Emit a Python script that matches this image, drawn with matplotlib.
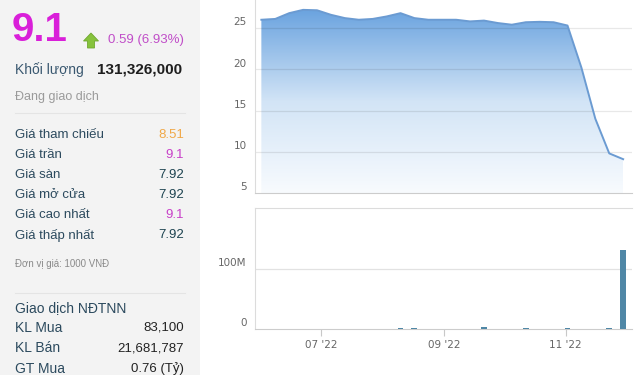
import numpy as np
import pandas as pd
import matplotlib
matplotlib.use("Agg")
import matplotlib.pyplot as plt
import matplotlib.dates as mdates
from matplotlib.patches import PathPatch, Polygon, Rectangle
from matplotlib.colors import LinearSegmentedColormap

# ---------------- data ----------------
week_dates = ["2022-06-01", "2022-06-08", "2022-06-15", "2022-06-22", "2022-06-29",
              "2022-07-06", "2022-07-13", "2022-07-20", "2022-07-27", "2022-08-03",
              "2022-08-10", "2022-08-17", "2022-08-24", "2022-08-31", "2022-09-07",
              "2022-09-14", "2022-09-21", "2022-09-28", "2022-10-05", "2022-10-12",
              "2022-10-19", "2022-10-26", "2022-11-02", "2022-11-09", "2022-11-16",
              "2022-11-23", "2022-11-30"]
prices = [26.0, 26.1, 26.8, 27.2, 27.15, 26.6, 26.2, 26.0, 26.1, 26.4,
          26.8, 26.2, 26.0, 26.0, 26.0, 25.8, 25.9, 25.6, 25.4, 25.7,
          25.75, 25.7, 25.3, 20.2, 14.0, 9.8, 9.1]
volumes_m = [0.1, 0.1, 0.1, 0.1, 0.1, 0.1, 0.1, 0.1, 0.1, 0.1,
             1.5, 1.5, 0.1, 0.1, 0.1, 0.1, 3.0, 0.1, 0.1, 1.5,
             0.1, 0.1, 1.5, 0.1, 0.1, 1.5, 131.326]

price_ticks = [5, 10, 15, 20, 25]
vol_ticks = [0, 100]
vol_tick_labels = ["0", "100M"]
x_tick_dates = ["2022-07-01", "2022-09-01", "2022-11-01"]
x_tick_labels = ["07 '22", "09 '22", "11 '22"]

info_labels = ["Giá tham chiếu", "Giá trần", "Giá sàn", "Giá mở cửa", "Giá cao nhất", "Giá thấp nhất"]
info_values = ["8.51", "9.1", "7.92", "7.92", "9.1", "7.92"]
info_colors = ["#f0a848", "#c83fc8", "#1d4350", "#1d4350", "#c83fc8", "#1d4350"]
foreign_labels = ["KL Mua", "KL Bán", "GT Mua"]
foreign_values = ["83,100", "21,681,787", "0.76 (Tỷ)"]

# ---------------- figure ----------------
W, H = 640, 375
fig = plt.figure(figsize=(6.4, 3.75), dpi=100, facecolor="white")
FONT = ["Liberation Sans", "DejaVu Sans"]

ov = fig.add_axes([0, 0, 1, 1], zorder=0)
ov.set_xlim(0, W)
ov.set_ylim(H, 0)
ov.axis("off")
ov.add_patch(Rectangle((0, 0), 200, H, facecolor="#f3f3f3", edgecolor="none"))
ov.plot([15, 185], [113, 113], color="#e4e4e4", lw=0.8)
ov.plot([15, 185], [293, 293], color="#e4e4e4", lw=0.8)

ov.text(12, 30, "9.1", color="#d91fd9", fontsize=29, fontweight="bold", va="center", ha="left", family=FONT)
ov.add_patch(Polygon([(83.5, 41), (91, 33), (98.5, 41), (94.5, 41), (94.5, 48), (87.5, 48), (87.5, 41)],
                     closed=True, facecolor="#86c23c", edgecolor="#70a830", lw=0.6))
ov.text(108, 40, "0.59 (6.93%)", color="#c04dc8", fontsize=9.5, va="center", ha="left", family=FONT)
ov.text(15, 70, "Khối lượng", color="#3a5870", fontsize=10, va="center", ha="left", family=FONT)
ov.text(182, 70, "131,326,000", color="#1e1e1e", fontsize=11, fontweight="bold", va="center", ha="right", family=FONT)
ov.text(15, 97, "Đang giao dịch", color="#9a9a9a", fontsize=9, va="center", ha="left", family=FONT)

for i, (lab, val, col) in enumerate(zip(info_labels, info_values, info_colors)):
    y = 135 + 20 * i
    ov.text(15, y, lab, color="#2c4a5e", fontsize=9.5, va="center", ha="left", family=FONT)
    ov.text(184, y, val, color=col, fontsize=9.5, va="center", ha="right", family=FONT)

ov.text(15, 264, "Đơn vị giá: 1000 VNĐ", color="#8a8a8a", fontsize=7, va="center", ha="left", family=FONT)
ov.text(15, 308, "Giao dịch NĐTNN", color="#2c4a5e", fontsize=10, va="center", ha="left", family=FONT)
for i, (lab, val) in enumerate(zip(foreign_labels, foreign_values)):
    y = 328 + 20.5 * i
    ov.text(15, y, lab, color="#2c4a5e", fontsize=10, va="center", ha="left", family=FONT)
    ov.text(184, y, val, color="#222222", fontsize=9.5, va="center", ha="right", family=FONT)

# ---------------- price chart ----------------
x = mdates.date2num(pd.to_datetime(week_dates))
jul1 = mdates.date2num(pd.Timestamp("2022-07-01"))
nov1 = mdates.date2num(pd.Timestamp("2022-11-01"))
xmin, xmax = jul1 - 33.2, nov1 + 33.45

ax1 = fig.add_axes([255 / W, 1 - 193 / H, 377 / W, 193 / H], zorder=1)
ax1.set_facecolor("white")
poly = ax1.fill_between(x, prices, 5, facecolor="none", edgecolor="none")
clip = PathPatch(poly.get_paths()[0], transform=ax1.transData, facecolor="none", edgecolor="none")
ax1.add_patch(clip)
cmap = LinearSegmentedColormap.from_list("g", ["#f8fbfe", "#d2e4f6", "#6aa3df"])
grad = np.linspace(0, 1, 256).reshape(-1, 1)
im = ax1.imshow(grad, extent=[x[0], x[-1], 5, 27.3], origin="lower", aspect="auto", cmap=cmap, zorder=1)
im.set_clip_path(clip)
ax1.plot(x, prices, color="#6b9bd2", lw=1.4, zorder=3, solid_joinstyle="round")
for t in price_ticks[1:]:
    ax1.axhline(t, color="black", alpha=0.09, lw=0.9, zorder=2)
ax1.set_xlim(xmin, xmax)
ax1.set_ylim(5, 5 + 193 / 8.25)
ax1.set_xticks([])
ax1.set_yticks([])
for s in ["top", "right"]:
    ax1.spines[s].set_visible(False)
ax1.spines["left"].set_color("#dcdcdc")
ax1.spines["bottom"].set_color("#cccccc")
for t in price_ticks:
    ax1.annotate(str(t), xy=(0, t), xycoords=("axes fraction", "data"), xytext=(-6, 4),
                 textcoords="offset points", ha="right", va="center", color="#666666",
                 fontsize=7.5, family="DejaVu Sans")

# ---------------- volume chart ----------------
ax2 = fig.add_axes([255 / W, 1 - 329 / H, 377 / W, 121 / H], zorder=1)
ax2.set_facecolor("white")
ax2.bar(x, volumes_m, width=3.0, color="#4f87a6", zorder=3)
ax2.axhline(100, color="#e2e2e2", lw=0.9, zorder=1)
ax2.set_xlim(xmin, xmax)
ax2.set_ylim(0, 121 / 60 * 100)
ax2.set_yticks([])
ax2.spines["right"].set_visible(False)
for s in ["left", "top"]:
    ax2.spines[s].set_color("#dcdcdc")
ax2.spines["bottom"].set_color("#cccccc")
for t, lab in zip(vol_ticks, vol_tick_labels):
    ax2.annotate(lab, xy=(0, t), xycoords=("axes fraction", "data"), xytext=(-6, 4),
                 textcoords="offset points", ha="right", va="center", color="#666666",
                 fontsize=7.5, family="DejaVu Sans")
ax2.set_xticks(mdates.date2num(pd.to_datetime(x_tick_dates)))
ax2.set_xticklabels(x_tick_labels, family="DejaVu Sans")
ax2.tick_params(axis="x", length=5, width=0.8, color="#c8c8c8", pad=3, labelsize=7.5, labelcolor="#666666")

fig.savefig("out.png", dpi=100, facecolor="white")
